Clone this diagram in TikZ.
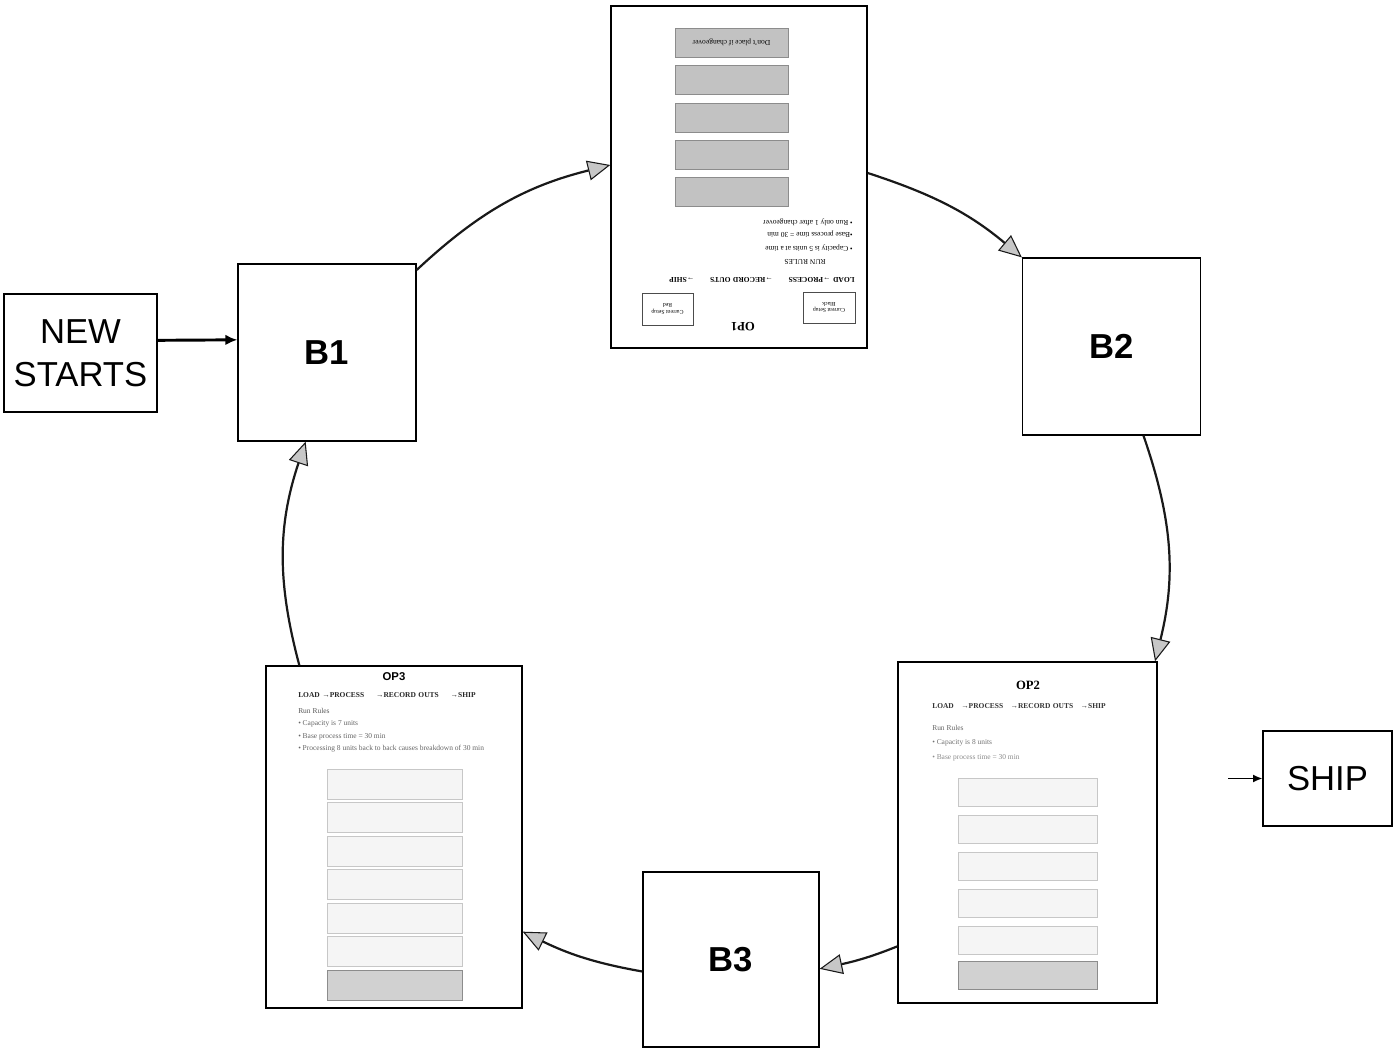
\documentclass[tikz,border=0pt]{standalone}
\usepackage{fontspec}
\setmainfont{Liberation Serif}
\setsansfont{Liberation Sans}
\usetikzlibrary{arrows.meta}

\tikzset{
  blk/.style={draw, line width=0.95pt, fill=white, inner sep=0pt, align=center,
    font=\sffamily\fontsize{26}{32}\selectfont},
  buf/.style={blk, minimum width=133.5pt, minimum height=132.75pt,
    font=\sffamily\bfseries\fontsize{26}{30}\selectfont},
  page/.style={draw, line width=1.05pt, fill=white, inner sep=0pt,
    minimum width=192pt, minimum height=256.5pt},
  flow/.style={line width=1.65pt, draw=black!90,
    -{Triangle[length=17pt,width=15pt,fill=black!22,line width=0.8pt]}},
  feed/.style={line width=2.2pt, -{Latex[length=9pt,width=8pt]}},
  feedthin/.style={line width=1pt, -{Latex[length=7pt,width=6pt]}},
  pgtxt/.style={anchor=west, inner sep=0pt, font=\fontsize{5.6}{6.5}\selectfont},
  pgtitle/.style={inner sep=0pt, font=\bfseries\fontsize{9.5}{10}\selectfont},
  flowline/.style={pgtxt, text width=#1, font=\bfseries\fontsize{5.6}{6.5}\selectfont},
  setup/.style={draw=black!70, line width=0.4pt, inner sep=0pt, align=center,
    font=\fontsize{4.3}{5}\selectfont},
  bar/.style={draw=black!45, line width=0.4pt, fill=black!24},
  fbar/.style={draw=black!22, line width=0.4pt, fill=black!4},
  dbar/.style={draw=black!45, line width=0.4pt, fill=black!18},
}

\begin{document}
\begin{tikzpicture}[x=0.75pt,y=-0.75pt]
\useasboundingbox (0,0) rectangle (1397,1048);
\fill[white] (0,0) rectangle (1397,1048);

% blocks and buffers
\node[blk, minimum width=114.75pt, minimum height=88.5pt] (new) at (80.5,353) {NEW\\STARTS};
\node[buf] (b1) at (327,352.5) {B1};
\node[buf] (b2) at (1111.5,346.5) {B2};
\node[buf, minimum width=132pt, minimum height=131.25pt] (b3) at (731,959.5) {B3};
\node[blk, minimum width=96.75pt, minimum height=71.25pt] (ship) at (1327.5,778.5) {SHIP};

% operation sheets
\node[page] (op1) at (739,177) {};
\node[page, minimum width=194.25pt, minimum height=255.75pt] (op2) at (1027.5,832.5) {};
\node[page] (op3) at (394,837) {};

% feeds
\draw[feed] ([yshift=9.5pt]new.east) -- ([yshift=9.5pt]b1.west);
\coordinate (shipin) at (1228,778.5);
\draw[feedthin] (shipin) -- (ship.west);

% the loop
\draw[flow] ([yshift=-5pt]b1.north east) to[out=43,in=194] ([yshift=9pt]op1.west);
\draw[flow] ([yshift=3pt]op1.east) to[out=-18,in=140] (b2.north west);
\draw[flow] ([xshift=24pt]b2.south) to[out=-71,in=76] ([xshift=-2pt]op2.north east);
\draw[flow] ([yshift=43pt]op2.south west) to[out=202,in=12] ([yshift=-7pt]b3.east);
\draw[flow] ([yshift=-9pt]b3.west) to[out=170,in=-26] ([yshift=-71pt]op3.east);
\draw[flow] ([xshift=-71pt]op3.north) to[out=105,in=251.5] ([xshift=-16pt]b1.south);

% OP1 sheet, lying upside down
\begin{scope}[rotate around={180:(739,177)}, transform shape]
  \node[pgtitle] (op1t) at (735,27) {OP1};
  \node[setup, minimum width=39pt, minimum height=23.25pt] (op1sa) at (649,46.5) {Current Setup\\Black};
  \node[setup, minimum width=38.25pt, minimum height=24pt] (op1sb) at (810.5,45) {Current Setup\\Red};
  \node[flowline=139pt] (op1f) at (623,74) {LOAD →PROCESS \hfill →RECORD OUTS \hfill →SHIP};
  \node[pgtxt] (op1r) at (652,92) {RUN RULES};
  \node[pgtxt] (op1a) at (625,106) {• Capacity is 5 units at a time};
  \node[pgtxt] (op1b) at (625,120) {•Base process time = 30 min};
  \node[pgtxt] (op1c) at (625,132) {• Run only 1 after changeover};
  \foreach \y in {148,185,222,260,297}
    \draw[bar] (690,\y) rectangle (803,\y+29);
  \node[inner sep=0pt, font=\fontsize{5.6}{6.5}\selectfont] (op1n) at (746.5,311.5) {Don't place if changeover};
\end{scope}

% OP2 sheet
\node[pgtitle] (op2t) at (1028,685) {OP2};
\node[flowline=130pt, text=black!80] (op2f) at (932,706) {LOAD \hfill →PROCESS \hfill →RECORD OUTS \hfill →SHIP};
\node[pgtxt, text=black!60] (op2r) at (932,728) {Run Rules};
\node[pgtxt, text=black!55] (op2a) at (932,743) {• Capacity is 8 units};
\node[pgtxt, text=black!45] (op2b) at (932,758) {• Base process time = 30 min};
\foreach \y in {778,815,852,889,926}
  \draw[fbar] (958,\y) rectangle (1097,\y+28);
\draw[dbar] (958,961) rectangle (1097,989);

% OP3 sheet
\node[pgtitle, font=\sffamily\bfseries\fontsize{8.5}{10}\selectfont] (op3t) at (394,677) {OP3};
\node[flowline=133pt, text=black!85] (op3f) at (298,695) {LOAD →PROCESS \hfill →RECORD OUTS \hfill →SHIP};
\node[pgtxt, text=black!65] (op3r) at (298,711) {Run Rules};
\node[pgtxt, text=black!60] (op3a) at (298,724) {• Capacity is 7 units};
\node[pgtxt, text=black!60] (op3b) at (298,737) {• Base process time = 30 min};
\node[pgtxt, text=black!60] (op3c) at (298,749) {• Processing 8 units back to back causes breakdown of 30 min};
\foreach \y in {769,802.5,836,869.5,903,936.5}
  \draw[fbar] (327,\y) rectangle (462,\y+30);
\draw[dbar] (327,970) rectangle (462,1000);

\end{tikzpicture}
\end{document}
